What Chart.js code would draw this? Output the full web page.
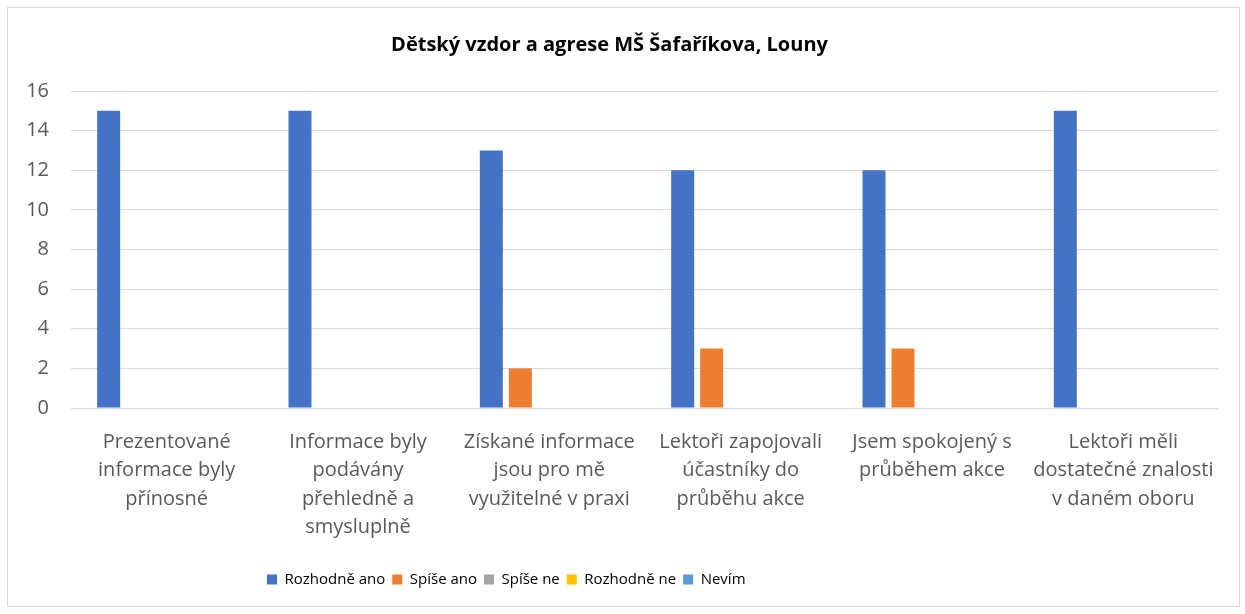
<!DOCTYPE html>
<html>
<head>
<meta charset="utf-8">
<script src="https://cdn.jsdelivr.net/npm/chart.js@4/dist/chart.umd.min.js"></script>
<style>
html,body{margin:0;padding:0;background:#fff;}
#wrap{position:absolute;left:0;top:0;width:1245px;height:614px;}
</style>
</head>
<body>
<div id="wrap"><canvas id="c" width="1245" height="614"></canvas></div>
<script>
const chartTitle = "Dětský vzdor a agrese MŠ Šafaříkova, Louny";
const categories = [
  ["Prezentované", "informace byly", "přínosné"],
  ["Informace byly", "podávány", "přehledně a", "smysluplně"],
  ["Získané informace", "jsou pro mě", "využitelné v praxi"],
  ["Lektoři zapojovali", "účastníky do", "průběhu akce"],
  ["Jsem spokojený s", "průběhem akce"],
  ["Lektoři měli", "dostatečné znalosti", "v daném oboru"]
];
const seriesNames = ["Rozhodně ano", "Spíše ano", "Spíše ne", "Rozhodně ne", "Nevím"];
const rozhodneAno = [15, 15, 13, 12, 12, 15];
const spiseAno    = [0, 0, 2, 3, 3, 0];
const spiseNe     = [0, 0, 0, 0, 0, 0];
const rozhodneNe  = [0, 0, 0, 0, 0, 0];
const nevim       = [0, 0, 0, 0, 0, 0];
const yTicks = [0, 2, 4, 6, 8, 10, 12, 14, 16];
const colors = ["#4472C4", "#ED7D31", "#A5A5A5", "#FFC000", "#5B9BD5"];

const seriesValues = [rozhodneAno, spiseAno, spiseNe, rozhodneNe, nevim];
const FONT = "'Open Sans', 'DejaVu Sans', sans-serif";
const TXT = "#595959";
const LEGEND_PAD = 7;
const LEGEND_FONT = 15;

const framePlugin = {
  id: 'frame',
  beforeDraw(chart) {
    const ctx = chart.ctx;
    ctx.save();
    ctx.fillStyle = '#ffffff';
    ctx.fillRect(0, 0, chart.width, chart.height);
    ctx.strokeStyle = '#d9d9d9';
    ctx.lineWidth = 1;
    ctx.strokeRect(7.5, 7.5, 1232, 599);
    ctx.restore();
  },
  afterLayout(chart) {
    // place the legend block like the original (left-started, below the labels)
    const lg = chart.legend;
    const w = lg.right - lg.left, h = lg.bottom - lg.top;
    lg.left = 267 - LEGEND_PAD;
    lg.right = lg.left + w;
    lg.top = 565;
    lg.bottom = lg.top + h;
  }
};

new Chart(document.getElementById('c'), {
  type: 'bar',
  data: {
    labels: categories,
    datasets: seriesNames.map((n, i) => ({
      label: n,
      data: seriesValues[i],
      backgroundColor: colors[i],
      borderWidth: 0,
      categoryPercentage: 0.758,
      barPercentage: 0.793
    }))
  },
  plugins: [framePlugin],
  options: {
    responsive: false,
    animation: false,
    events: [],
    layout: { padding: { left: 0, right: 26, top: 30, bottom: 27 } },
    plugins: {
      tooltip: { enabled: false },
      title: {
        display: true,
        text: chartTitle,
        color: '#000000',
        font: { family: FONT, size: 20, weight: 'bold' },
        padding: { top: 3, bottom: 34 }
      },
      legend: {
        position: 'bottom',
        align: 'start',
        labels: {
          color: TXT,
          font: { family: FONT, size: LEGEND_FONT },
          boxWidth: 10,
          boxHeight: 10,
          padding: LEGEND_PAD,
          generateLabels(chart) {
            return chart.data.datasets.map((d, i) => ({
              text: d.label, fillStyle: d.backgroundColor, strokeStyle: d.backgroundColor,
              lineWidth: 0, hidden: false, datasetIndex: i
            }));
          }
        }
      }
    },
    scales: {
      x: {
        grid: { display: false, drawTicks: false },
        border: { display: false },
        ticks: {
          color: TXT,
          font: { family: FONT, size: 20, lineHeight: 1.42 },
          padding: 20,
          maxRotation: 0,
          autoSkip: false
        },
        afterFit(scale) { scale.height = 147; }
      },
      y: {
        min: 0, max: 16,
        afterBuildTicks(scale) { scale.ticks = yTicks.map(v => ({ value: v })); },
        grid: { color: '#d9d9d9', lineWidth: 1, drawTicks: false },
        border: { display: false },
        ticks: {
          color: TXT,
          font: { family: FONT, size: 20 },
          padding: 22
        },
        afterFit(scale) { scale.width = 71; }
      }
    }
  }
});
</script>
</body>
</html>
